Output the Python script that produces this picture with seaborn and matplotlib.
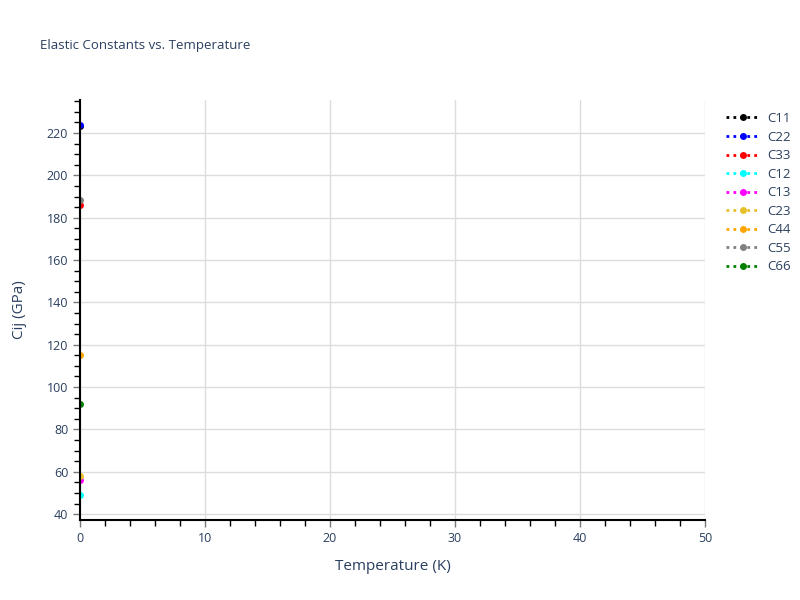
import numpy as np
import matplotlib
matplotlib.use('Agg')
import matplotlib.pyplot as plt
from matplotlib.ticker import MultipleLocator
import pandas as pd
import seaborn as sns

# datos (un solo punto a T = 0 K)
constants = ['C11', 'C22', 'C33', 'C12', 'C13', 'C23', 'C44', 'C55', 'C66']
temperature = [0, 0, 0, 0, 0, 0, 0, 0, 0]
values = [223.5, 224.0, 186.0, 49.0, 56.0, 58.0, 115.0, 188.5, 92.0]
colors = ['black', 'blue', 'red', 'cyan', 'magenta', '#e6c02a', 'orange', 'gray', 'green']

df = pd.DataFrame({'Temperature': temperature, 'Cij': values, 'Constant': constants})

sns.set_style('white')
plt.rcParams['font.family'] = ['Open Sans', 'DejaVu Sans']
txt = '#2a3f5f'

fig = plt.figure(figsize=(8, 6), dpi=100)
ax = fig.add_axes([0.1, 0.1333, 0.78125, 0.7])

sns.lineplot(data=df, x='Temperature', y='Cij', hue='Constant', hue_order=constants,
             palette=dict(zip(constants, colors)), marker='o', markersize=5,
             markeredgewidth=0, linestyle=':', linewidth=2, ax=ax, legend=False, zorder=3)

ax.set_xlim(0, 50)
ax.set_ylim(37.2, 235.6)
ax.xaxis.set_major_locator(MultipleLocator(10))
ax.xaxis.set_minor_locator(MultipleLocator(2))
ax.yaxis.set_major_locator(MultipleLocator(20))
ax.yaxis.set_minor_locator(MultipleLocator(5))
ax.grid(True, which='major', color='#dcdcdc', linewidth=1)
ax.set_axisbelow(True)

for s in ['top', 'right']:
    ax.spines[s].set_visible(False)
for s in ['left', 'bottom']:
    ax.spines[s].set_color('black')
    ax.spines[s].set_linewidth(1.5)
    ax.spines[s].set_zorder(4)

ax.tick_params(which='major', direction='out', length=5, width=1, color='#777777',
               labelcolor=txt, labelsize=9)
ax.tick_params(which='minor', direction='out', length=4, width=1, color='black')
ax.tick_params(axis='both', which='both', bottom=True, left=True)

ax.set_xlabel('Temperature (K)', color=txt, fontsize=11, labelpad=10)
ax.set_ylabel('Cij (GPa)', color=txt, fontsize=11, labelpad=14)
fig.text(0.05, 0.925, 'Elastic Constants vs. Temperature', color=txt, fontsize=9.5,
         ha='left', va='center')

handles = [plt.Line2D([0], [0], color=c, linestyle=(0, (1, 1.5)), linewidth=2, marker='o',
                      markersize=5, markeredgewidth=0) for c in colors]
leg = fig.legend(handles, constants, loc='upper left', bbox_to_anchor=(0.893, 0.833),
                 frameon=False, fontsize=9.5, labelcolor=txt, handlelength=2.5,
                 labelspacing=0.42, handletextpad=0.6)

plt.savefig('out.png', dpi=100)
